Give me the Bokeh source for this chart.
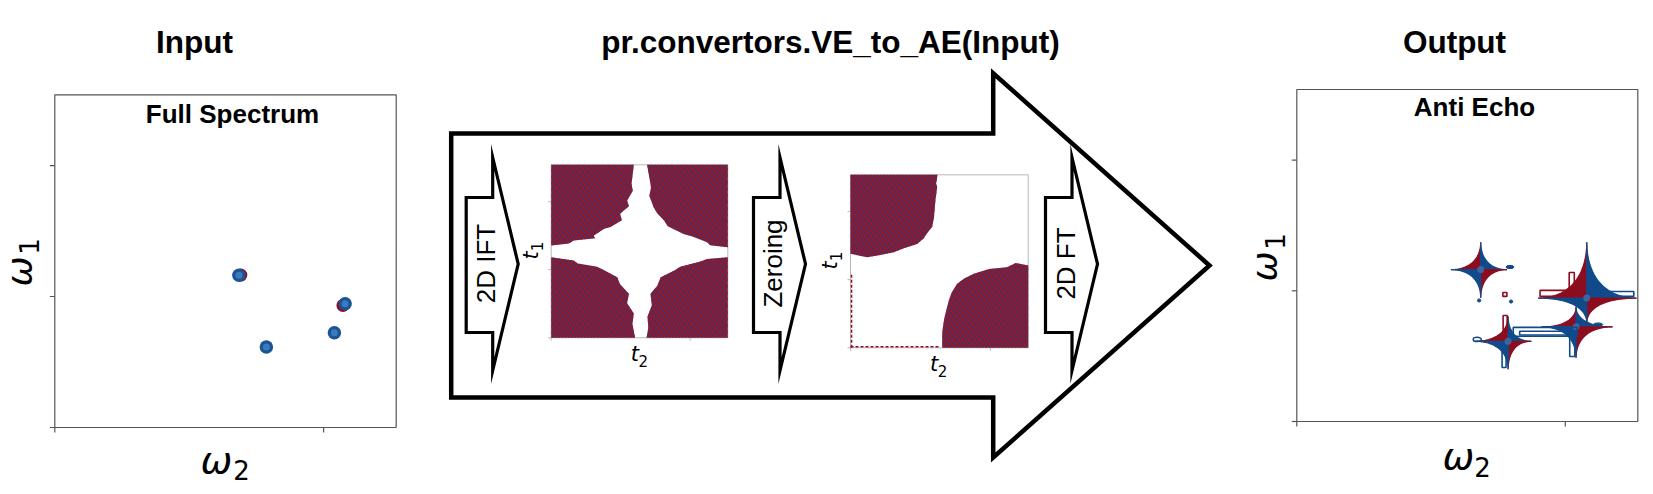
import numpy as np
from bokeh.plotting import figure
from bokeh.models import Range1d
from bokeh.core.properties import value
from bokeh.embed import file_html
from bokeh.resources import INLINE

# ---- data ----
# peak positions (omega2, omega1), same peaks in input and output spectra
peak_w2 = [6.85, 7.87, 10.40, 10.80]
peak_w1 = [5.81, 3.07, 3.62, 4.72]
# red (negative) traces showing under two of the input peaks
neg_w2 = [6.92, 10.72]
neg_w1 = [5.82, 4.66]
# reach of each anti-echo cross arm
arm_up = [1.05, 0.95, 0.77, 2.14]
arm_down = [1.08, 1.07, 1.18, 0.95]
arm_left = [1.11, 1.25, 1.28, 1.81]
arm_right = [0.98, 0.87, 1.36, 1.85]
# open contour loops of the output spectrum
loop_w2 = [9.71, 10.24, 11.92, 9.25, 9.25, 7.76, 7.72, 10.26, 7.75]
loop_w1 = [4.90, 5.30, 4.88, 3.43, 3.38, 3.75, 2.39, 2.85, 4.86]
loop_dw = [1.30, 0.19, 1.26, 2.38, 1.90, 0.15, 0.15, 0.19, 0.15]
loop_dh = [0.23, 0.80, 0.19, 0.34, 0.14, 0.61, 0.65, 0.73, 0.15]
loop_sign = ["+", "+", "-", "-", "-", "+", "-", "-", "+"]
# small isolated negative islands
isl_w2 = [7.98, 6.79, 7.94, 11.22]
isl_w1 = [4.59, 4.63, 5.91, 3.71]
isl_dw = [0.12, 0.12, 0.30, 0.35]
isl_dh = [0.12, 0.12, 0.12, 0.12]

w_lim = 12.7
w_ticks_x = [0, 10]
w_ticks_y = [0, 5, 10]
t_ticks_x = [0, 0.787]
t_ticks_y = [0, 0.394, 0.787]

# time-domain signal regions (t2, t1), full FID after 2D IFT
ift_tl_t2 = [0, 0.468, 0.455, 0.462, 0.43, 0.44, 0.39, 0.40, 0.336, 0.30, 0.24, 0.25, 0.128, 0.10, 0]
ift_tl_t1 = [1, 1, 0.89, 0.85, 0.794, 0.76, 0.717, 0.68, 0.64, 0.63, 0.59, 0.575, 0.563, 0.545, 0.534]
ift_tr_t2 = [1, 0.543, 0.565, 0.556, 0.58, 0.60, 0.638, 0.66, 0.75, 0.80, 0.883, 0.90, 1]
ift_tr_t1 = [1, 1, 0.87, 0.82, 0.755, 0.72, 0.68, 0.645, 0.6, 0.585, 0.553, 0.535, 0.524]
ift_bl_t2 = [0, 0, 0.128, 0.15, 0.26, 0.30, 0.374, 0.39, 0.44, 0.43, 0.468, 0.46, 0.475]
ift_bl_t1 = [0, 0.466, 0.447, 0.43, 0.41, 0.39, 0.35, 0.31, 0.254, 0.2, 0.14, 0.08, 0]
ift_br_t2 = [1, 1, 0.883, 0.84, 0.73, 0.70, 0.62, 0.60, 0.562, 0.57, 0.545, 0.55, 0.54]
ift_br_t1 = [0, 0.466, 0.455, 0.44, 0.41, 0.39, 0.35, 0.30, 0.254, 0.19, 0.12, 0.06, 0]
# after zeroing only two quadrants survive
zero_tl_t2 = [0, 0.49, 0.482, 0.488, 0.478, 0.47, 0.46, 0.43, 0.41, 0.375, 0.30, 0.244, 0.16, 0.094, 0]
zero_tl_t1 = [1, 1, 0.95, 0.929, 0.852, 0.755, 0.70, 0.66, 0.63, 0.6, 0.575, 0.553, 0.535, 0.524, 0.543]
zero_br_t2 = [1, 1, 0.93, 0.88, 0.78, 0.694, 0.64, 0.6, 0.57, 0.553, 0.54, 0.529, 0.52, 0.516, 0.516]
zero_br_t1 = [0, 0.476, 0.49, 0.466, 0.455, 0.428, 0.40, 0.37, 0.32, 0.274, 0.22, 0.177, 0.12, 0.081, 0]

RED = "#8c0d1f"
BLUE = "#114a8b"
W, H = 1645, 486

p = figure(width=W, height=H, x_range=Range1d(0, W), y_range=Range1d(H, 0),
           x_axis_type=None, y_axis_type=None, output_backend="svg",
           toolbar_location=None, min_border=0)
p.grid.visible = False
p.outline_line_color = None


def panel(name, box, xlim, ylim):
    # map a data window onto a pixel box of the page
    l, t, r, b = box
    kx = xlim / (r - l)
    ky = ylim / (b - t)
    p.extra_x_ranges[name] = Range1d(-l * kx, xlim + (W - r) * kx)
    p.extra_y_ranges[name] = Range1d(-(H - b) * ky, ylim + t * ky)
    return dict(x_range_name=name, y_range_name=name), kx, ky


def frame(kw, kx, ky, xlim, xt, yt, color, lw, tick):
    p.quad(left=0, right=xlim, bottom=0, top=xlim, fill_color=None,
           line_color=color, line_width=lw, **kw)
    p.segment(x0=xt, y0=[0] * len(xt), x1=xt, y1=[-tick * ky] * len(xt),
              line_color=color, line_width=lw, **kw)
    p.segment(x0=[0] * len(yt), y0=yt, x1=[-tick * kx] * len(yt), y1=yt,
              line_color=color, line_width=lw, **kw)


def label(xs, ys, texts, fs, font="Liberation Sans", style="normal", rotated=False):
    # xs/ys give the baseline; bokeh sets glyphs a bit lower, so lift them
    lift = 0.37 * fs
    if rotated:
        xs = [x - lift for x in xs]
    else:
        ys = [y - lift for y in ys]
    p.text(x=xs, y=ys, text=texts, angle=np.pi / 2 if rotated else 0,
           text_align="center", text_baseline="alphabetic", text_font=value(font),
           text_font_style=style, text_font_size=f"{fs}px", text_color="black")


# ---- big arrow and step arrows ----
p.patch([450.7, 992.7, 992.7, 1209, 992.7, 992.7, 450.7],
        [133, 133, 72.7, 265, 457, 397, 397],
        fill_color="white", line_color="black", line_width=4.5, line_join="miter")
for x0 in [465.7, 753, 1045]:
    p.patch([x0, x0 + 26.5, x0 + 26.5, x0 + 52, x0 + 26.5, x0 + 26.5, x0],
            [197, 197, 157, 263.5, 370, 332, 332],
            fill_color="white", line_color="black", line_width=3.2, line_join="miter")
label([495, 782.5, 1075], [263, 263, 263], ["2D IFT", "Zeroing", "2D FT"], 26, rotated=True)

# ---- titles ----
label([194, 830, 1454], [53, 53, 53], ["Input", "pr.convertors.VE_to_AE(Input)", "Output"],
      31.5, style="bold")
label([232, 1474], [123, 116.5], ["Full Spectrum", "Anti Echo"], 26, style="bold")

# ---- input spectrum ----
kw, kx, ky = panel("inp", (54.3, 94.3, 395.7, 427), w_lim, w_lim)
frame(kw, kx, ky, w_lim, w_ticks_x, w_ticks_y, "#555555", 1.2, 5)
p.scatter(neg_w2, neg_w1, size=13, fill_color=RED, line_color=None, **kw)
p.scatter(peak_w2, peak_w1, size=13.5, fill_color="#1b5395", line_color=None, **kw)
p.scatter(peak_w2, peak_w1, size=7, fill_color="#4286c4", line_color=None, alpha=0.8, **kw)

# ---- output spectrum ----
kw, kx, ky = panel("out", (1296.3, 89, 1637.3, 421), w_lim, w_lim)
frame(kw, kx, ky, w_lim, w_ticks_x, w_ticks_y, "#555555", 1.2, 5)
tt = np.linspace(0, np.pi / 2, 40)
q_xs, q_ys, q_col = [], [], []
for cx, cy, u, d, l, r in zip(peak_w2, peak_w1, arm_up, arm_down, arm_left, arm_right):
    for sx, sy, ex, ey, col in [(-1, 1, l, u, RED), (1, 1, r, u, BLUE),
                                (1, -1, r, d, RED), (-1, -1, l, d, BLUE)]:
        q_xs.append([cx] + list(cx + sx * ex * np.cos(tt) ** 3.8))
        q_ys.append([cy] + list(cy + sy * ey * np.sin(tt) ** 3.8))
        q_col.append(col)
p.patches(q_xs, q_ys, fill_color=q_col, line_color=q_col, line_width=1.2, **kw)
p.scatter(peak_w2, peak_w1, size=7, fill_color="#3f86c4", line_color=None, alpha=0.6, **kw)
p.rect(loop_w2, loop_w1, width=loop_dw, height=loop_dh, fill_color=None,
       line_color=[RED if s == "+" else BLUE for s in loop_sign], line_width=1.6, **kw)
p.ellipse(isl_w2, isl_w1, width=isl_dw, height=isl_dh, fill_color=BLUE, line_color=BLUE, **kw)
p.ellipse([6.72], [3.14], width=0.3, height=0.16, fill_color=None, line_color=BLUE,
          line_width=1.5, **kw)

# ---- time-domain panels ----
hatch = dict(fill_color="#a3151e", line_color=None, hatch_pattern="/", hatch_color="#1c3786",
             hatch_scale=6.5, hatch_weight=1)
kw, kx, ky = panel("ift", (550.7, 164.3, 727.3, 337.3), 1.0, 1.0)
frame(kw, kx, ky, 1.0, t_ticks_x, t_ticks_y, "#b8b8b8", 1, 3)
p.patches([ift_tl_t2, ift_tr_t2, ift_bl_t2, ift_br_t2],
          [ift_tl_t1, ift_tr_t1, ift_bl_t1, ift_br_t1], **hatch, **kw)

kw, kx, ky = panel("zero", (850, 174.3, 1027.7, 347.3), 1.0, 1.0)
frame(kw, kx, ky, 1.0, t_ticks_x, t_ticks_y, "#b8b8b8", 1, 3)
p.patches([zero_tl_t2, zero_br_t2], [zero_tl_t1, zero_br_t1], **hatch, **kw)
p.segment(x0=[0.006, 0], y0=[0, 0.006], x1=[0.006, 0.5], y1=[0.43, 0.006],
          line_color=RED, line_width=1.5, line_dash="3 2", **kw)

# ---- axis symbols ----
label([216, 1458], [474, 470], ["ω", "ω"], 38, font="DejaVu Sans", style="italic")
label([241, 1482], [479.5, 476.5], ["2", "2"], 26, font="DejaVu Sans")
label([32, 1277], [271, 266], ["ω", "ω"], 36, font="DejaVu Sans", style="italic", rotated=True)
label([38, 1284], [246, 241], ["1", "1"], 26, font="DejaVu Sans", rotated=True)
label([634.3, 933.6], [361.7, 371.7], ["t", "t"], 21, font="DejaVu Sans", style="italic")
label([642.7, 942], [365.7, 375.7], ["2", "2"], 15, font="DejaVu Sans")
label([538.3, 837.6], [255, 265], ["t", "t"], 21, font="DejaVu Sans", style="italic", rotated=True)
label([541.7, 841], [246, 256], ["1", "1"], 15, font="DejaVu Sans", rotated=True)

open("out.html", "w").write(file_html(p, INLINE))
